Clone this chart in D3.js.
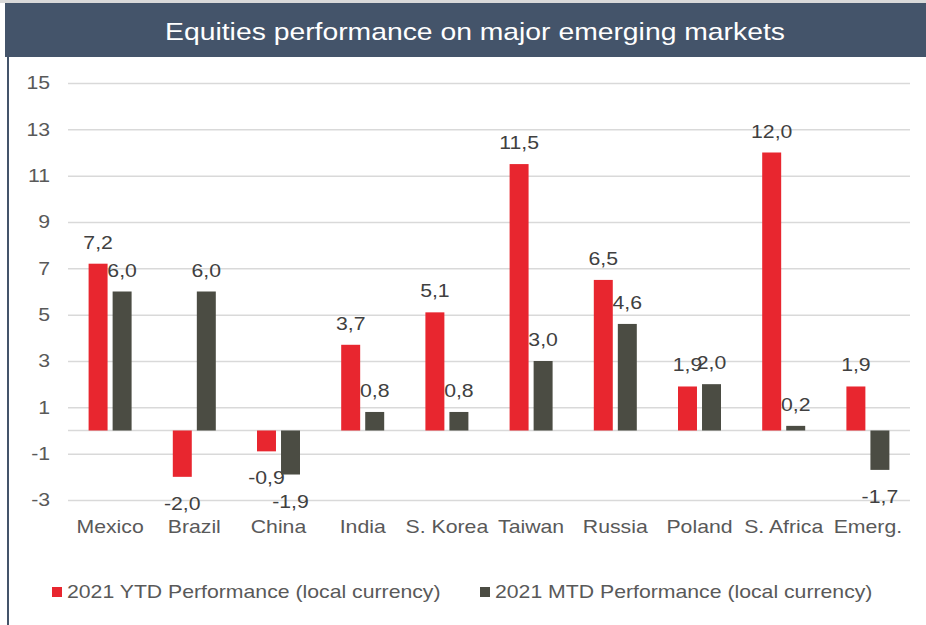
<!DOCTYPE html>
<html lang="en">
<head>
    <meta charset="utf-8"/>
    <title>Equities performance on major emerging markets</title>
    <script src="https://d3js.org/d3.v7.min.js"></script>
    <style>
        body { margin: 0; background: #fff; }
        text { font-family: "Liberation Sans", Arial, sans-serif; }
    </style>
</head>
<body>
<svg width="926" height="625"></svg>
<script>
    // data
    const categories = ["Mexico", "Brazil", "China", "India", "S. Korea", "Taiwan", "Russia", "Poland", "S. Africa", "Emerg."];
    const seriesNames = ["2021 YTD Performance (local currency)", "2021 MTD Performance (local currency)"];
    const ytd = [7.2, -2.0, -0.9, 3.7, 5.1, 11.5, 6.5, 1.9, 12.0, 1.9];
    const mtd = [6.0, 6.0, -1.9, 0.8, 0.8, 3.0, 4.6, 2.0, 0.2, -1.7];
    const yTicks = [-3, -1, 1, 3, 5, 7, 9, 11, 13, 15];

    const colors = ["#e8262f", "#4b4c43"];
    const stretch = 1.18; // the original's text is a bit wider than the font
    const svg = d3.select("svg");

    // places a text at (x,y), widened like the original
    function put(sel, x, y) {
        return sel.attr("transform", (d, i) => {
            const xx = typeof x === "function" ? x(d, i) : x;
            const yy = typeof y === "function" ? y(d, i) : y;
            return "translate(" + xx + "," + yy + ") scale(" + stretch + ",1)";
        });
    }

    // frame + title bar
    svg.append("rect").attr("x", 0).attr("y", 0).attr("width", 926).attr("height", 3).attr("fill", "#d9d9d9");
    svg.append("rect").attr("x", 5).attr("y", 3).attr("width", 921).attr("height", 54).attr("fill", "#44546a");
    svg.append("rect").attr("x", 7).attr("y", 57).attr("width", 2).attr("height", 568).attr("fill", "#44546a");
    put(svg.append("text"), 475, 40)
        .attr("text-anchor", "middle")
        .attr("fill", "#fff")
        .style("font-size", "24px")
        .text("Equities performance on major emerging markets");

    // scales
    const y = d3.scaleLinear().domain([-3, 15]).range([500, 83]);
    const x0 = d3.scaleBand().domain(categories).range([68, 910]);
    const x1 = d3.scaleBand().domain([0, 1]).range([-21.5, 21.5]).paddingInner(0.21);

    // gridlines
    const yAxis = d3.axisLeft(y).tickValues(yTicks).tickSize(-(910 - 68)).tickFormat(d => String(d));
    const gy = svg.append("g").attr("transform", "translate(68,0)").call(yAxis);
    gy.select(".domain").remove();
    gy.selectAll(".tick line").attr("stroke", "#d9d9d9").attr("stroke-width", 1.5);
    gy.selectAll(".tick text")
        .attr("x", -18 / stretch)
        .attr("transform", "scale(" + stretch + ",1)")
        .attr("fill", "#595959").style("font-size", "18px").attr("font-family", null);
    svg.append("line")
        .attr("x1", 68).attr("x2", 910).attr("y1", y(0)).attr("y2", y(0))
        .attr("stroke", "#d9d9d9").attr("stroke-width", 1.5);

    // bars
    const series = [ytd, mtd];
    const fmt = v => v.toFixed(1).replace(".", ",");
    series.forEach((vals, s) => {
        const g = svg.append("g");
        const bx = c => x0(c) + x0.bandwidth() / 2 + x1(s);
        g.selectAll("rect").data(vals).join("rect")
            .attr("x", (d, i) => bx(categories[i]))
            .attr("y", d => y(Math.max(0, d)))
            .attr("width", x1.bandwidth())
            .attr("height", d => Math.abs(y(d) - y(0)))
            .attr("fill", colors[s]);
        put(g.selectAll("text").data(vals).join("text"),
            (d, i) => bx(categories[i]) + x1.bandwidth() / 2,
            d => d >= 0 ? y(d) - 15 : y(d) + 33)
            .attr("text-anchor", "middle")
            .attr("fill", "#404040")
            .style("font-size", "18px")
            .text(d => fmt(d));
    });

    // category labels
    put(svg.append("g").selectAll("text").data(categories).join("text"),
        d => x0(d) + x0.bandwidth() / 2, 533)
        .attr("text-anchor", "middle")
        .attr("fill", "#595959")
        .style("font-size", "18px")
        .text(d => d);

    // legend
    const legendX = [52, 480];
    seriesNames.forEach((name, s) => {
        svg.append("rect").attr("x", legendX[s]).attr("y", 587).attr("width", 10).attr("height", 10).attr("fill", colors[s]);
        put(svg.append("text"), legendX[s] + 15, 598)
            .attr("fill", "#595959").style("font-size", "18px").text(name);
    });
</script>
</body>
</html>
